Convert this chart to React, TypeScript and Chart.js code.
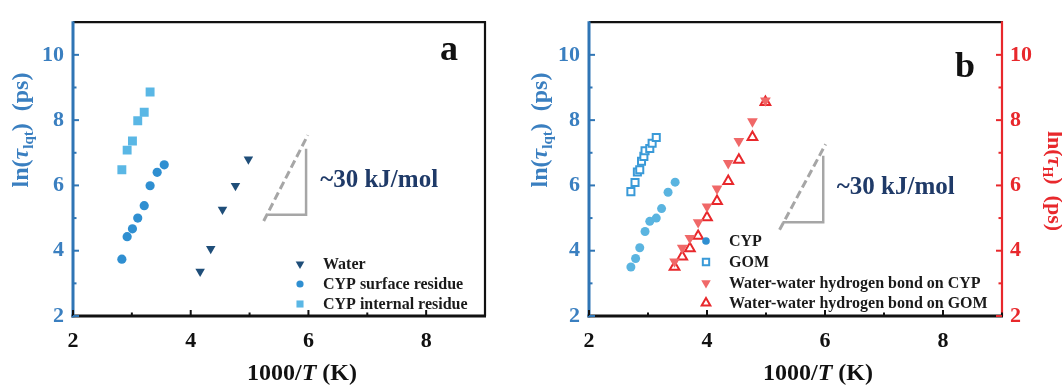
import React, { useEffect, useRef } from 'react';
import { Chart, registerables } from 'chart.js';
import { drawPoint } from 'chart.js/helpers';

Chart.register(...registerables);

const SERIF = '"Liberation Serif", "Times New Roman", serif';
const BLUE_AXIS = '#2f75b5';
const BLUE_TEXT = '#3a7fc0';
const RED = '#e8282c';
const RED_LIGHT = '#f06868';
const NAVY = '#1f3a68';
const GRAY = '#a6a6a6';

// ---------- shared axis values ----------
const xMajorTicks = [2, 4, 6, 8];
const xMinorTicks = [3, 5, 7, 9];
const yMajorTicks = [2, 4, 6, 8, 10];
const yMinorTicks = [3, 5, 7, 9];

// ---------- panel a ----------
const waterX = [4.16, 4.34, 4.54, 4.76, 4.98];
const waterY = [3.36, 4.06, 5.26, 5.99, 6.8];
const surfaceX = [2.83, 2.92, 3.01, 3.1, 3.21, 3.31, 3.43, 3.55];
const surfaceY = [3.74, 4.43, 4.67, 5.0, 5.38, 5.99, 6.4, 6.63];
const internalX = [2.83, 2.92, 3.01, 3.1, 3.21, 3.31];
const internalY = [6.48, 7.08, 7.36, 7.98, 8.24, 8.86];
const slopeDashA_X = [5.24, 5.99];
const slopeDashA_Y = [4.91, 7.54];
const slopeSolidA_X = [5.28, 5.96, 5.96];
const slopeSolidA_Y = [5.1, 5.1, 7.12];
const legendA = ['Water', 'CYP surface residue', 'CYP internal residue'];

// ---------- panel b ----------
const cypX = [2.71, 2.79, 2.86, 2.95, 3.03, 3.14, 3.23, 3.34, 3.46];
const cypY = [3.5, 3.76, 4.09, 4.59, 4.9, 5.0, 5.29, 5.79, 6.1];
const gomX = [2.71, 2.78, 2.82, 2.86, 2.89, 2.93, 2.95, 3.03, 3.07, 3.14];
const gomY = [5.81, 6.09, 6.41, 6.48, 6.74, 6.89, 7.06, 7.13, 7.29, 7.47];
const hbX = [3.45, 3.58, 3.71, 3.85, 4.0, 4.17, 4.36, 4.54, 4.77, 4.99];
const hbCypY = [3.67, 4.09, 4.39, 4.87, 5.35, 5.9, 6.68, 7.36, 7.96, 8.6];
const hbGomY = [3.5, 3.82, 4.07, 4.45, 5.02, 5.52, 6.13, 6.78, 7.48, 8.55];
const slopeDashB_X = [5.23, 6.01];
const slopeDashB_Y = [4.64, 7.26];
const slopeSolidB_X = [5.28, 5.97, 5.97];
const slopeSolidB_Y = [4.87, 4.87, 6.91];
const legendB = ['CYP', 'GOM', 'Water-water hydrogen bond on CYP', 'Water-water hydrogen bond on GOM'];

const pts = (xs: number[], ys: number[]) => xs.map((x, i) => ({ x, y: ys[i] }));

type Part = { t: string; sub?: boolean; italic?: boolean };

function drawParts(ctx: CanvasRenderingContext2D, parts: Part[], size: number, color: string) {
  const subSize = Math.round(size * 0.62);
  const fontOf = (p: Part) => `${p.italic ? 'italic ' : ''}bold ${p.sub ? subSize : size}px ${SERIF}`;
  const widths = parts.map((p) => {
    ctx.font = fontOf(p);
    return ctx.measureText(p.t).width;
  });
  const total = widths.reduce((a, b) => a + b, 0);
  let x = -total / 2;
  const base = size * 0.34;
  ctx.fillStyle = color;
  ctx.textAlign = 'left';
  ctx.textBaseline = 'alphabetic';
  parts.forEach((p, i) => {
    ctx.font = fontOf(p);
    ctx.fillText(p.t, x, p.sub ? base + size * 0.22 : base);
    x += widths[i];
  });
}

function seg(ctx: CanvasRenderingContext2D, x1: number, y1: number, x2: number, y2: number, color: string, w: number) {
  ctx.beginPath();
  ctx.strokeStyle = color;
  ctx.lineWidth = w;
  ctx.moveTo(x1, y1);
  ctx.lineTo(x2, y2);
  ctx.stroke();
}

type LegendItem = { label: string; style: string; rotation: number; radius: number; fill: string; stroke: string; bw: number };

function makeDecor(cfg: {
  rightColor: string;
  rightTicks: boolean;
  legend: LegendItem[];
  legendX: number;
  legendRows: number[];
  letter: string;
  letterX: number;
  letterY: number;
  slopeAt: { x: number; y: number };
  yTitleX: number;
  yTitleY: number;
  xTitleX: number;
  rightTitle?: { x: number; y: number };
}) {
  return {
    id: 'decor',
    afterDraw(chart: any) {
      const { ctx, chartArea: a, scales } = chart;
      const xs = scales.x;
      const ys = scales.y;
      ctx.save();
      // frame
      seg(ctx, a.left, a.top, a.right + 1, a.top, '#111', 2.2);
      seg(ctx, a.right, a.top - 1, a.right, a.bottom, cfg.rightColor, 2.2);
      seg(ctx, a.left - 1.5, a.bottom, a.right + 1, a.bottom, '#111', 3);
      seg(ctx, a.left, a.top - 1, a.left, a.bottom + 1.5, BLUE_AXIS, 3);
      // ticks
      xMajorTicks.forEach((v) => {
        const p = xs.getPixelForValue(v);
        seg(ctx, p, a.bottom, p, a.bottom - 6, '#111', 2);
      });
      xMinorTicks.forEach((v) => {
        const p = xs.getPixelForValue(v);
        seg(ctx, p, a.bottom, p, a.bottom - 3.5, '#111', 2);
      });
      yMajorTicks.forEach((v) => {
        const p = ys.getPixelForValue(v);
        seg(ctx, a.left, p, a.left + 6, p, BLUE_AXIS, 2);
        if (cfg.rightTicks) seg(ctx, a.right, p, a.right - 6, p, cfg.rightColor, 2);
      });
      yMinorTicks.forEach((v) => {
        const p = ys.getPixelForValue(v);
        seg(ctx, a.left, p, a.left + 3.5, p, BLUE_AXIS, 2);
        if (cfg.rightTicks) seg(ctx, a.right, p, a.right - 3.5, p, cfg.rightColor, 2);
      });
      // legend
      cfg.legend.forEach((it, i) => {
        const y = cfg.legendRows[i];
        ctx.fillStyle = it.fill;
        ctx.strokeStyle = it.stroke;
        ctx.lineWidth = it.bw;
        drawPoint(ctx, { pointStyle: it.style, rotation: it.rotation, radius: it.radius, borderWidth: it.bw } as any, cfg.legendX, y);
        ctx.fillStyle = '#1a1a1a';
        ctx.font = `bold 16px ${SERIF}`;
        ctx.textAlign = 'left';
        ctx.textBaseline = 'middle';
        ctx.fillText(it.label, cfg.legendX + 23, y + 1);
      });
      // panel letter
      ctx.fillStyle = '#111';
      ctx.font = `bold 36px ${SERIF}`;
      ctx.textAlign = 'left';
      ctx.textBaseline = 'alphabetic';
      ctx.fillText(cfg.letter, cfg.letterX, cfg.letterY);
      // slope label
      ctx.fillStyle = NAVY;
      ctx.font = `bold 25px ${SERIF}`;
      ctx.textBaseline = 'middle';
      ctx.fillText('~30 kJ/mol', xs.getPixelForValue(cfg.slopeAt.x), ys.getPixelForValue(cfg.slopeAt.y));
      // y title
      ctx.save();
      ctx.translate(cfg.yTitleX, cfg.yTitleY);
      ctx.rotate(-Math.PI / 2);
      drawParts(ctx, [{ t: 'ln(' }, { t: 'τ', italic: true }, { t: 'lqt', sub: true }, { t: ')  (ps)' }], 24, BLUE_TEXT);
      ctx.restore();
      if (cfg.rightTitle) {
        ctx.save();
        ctx.translate(cfg.rightTitle.x, cfg.rightTitle.y);
        ctx.rotate(Math.PI / 2);
        drawParts(ctx, [{ t: 'ln(' }, { t: 'τ', italic: true }, { t: 'H', sub: true }, { t: ')  (ps)' }], 22, RED);
        ctx.restore();
      }
      // x title
      ctx.save();
      ctx.translate(cfg.xTitleX, 372);
      drawParts(ctx, [{ t: '1000/' }, { t: 'T', italic: true }, { t: ' (K)' }], 24, '#111');
      ctx.restore();
      ctx.restore();
    },
  };
}

const tickFont = { family: SERIF, size: 22, weight: 'bold' as const };

function xScale() {
  return {
    type: 'linear' as const,
    min: 2,
    max: 9,
    grid: { display: false, drawTicks: false },
    border: { display: false },
    ticks: { font: tickFont, color: '#111', padding: 12 },
    afterBuildTicks: (s: any) => {
      s.ticks = xMajorTicks.map((v) => ({ value: v }));
    },
    afterFit: (s: any) => {
      s.height = 70;
    },
  };
}

function yScale(position: 'left' | 'right', color: string, width: number, padding: number, display = true) {
  return {
    type: 'linear' as const,
    position,
    min: 2,
    max: 11,
    display,
    grid: { display: false, drawTicks: false },
    border: { display: false },
    ticks: { font: tickFont, color, padding },
    afterBuildTicks: (s: any) => {
      s.ticks = yMajorTicks.map((v) => ({ value: v }));
    },
    afterFit: (s: any) => {
      s.width = width;
    },
  };
}

function lineDs(xs: number[], ys: number[], dashed: boolean, yAxisID = 'y') {
  return {
    data: pts(xs, ys),
    showLine: true,
    borderColor: GRAY,
    borderWidth: dashed ? 3 : 2.5,
    borderDash: dashed ? [8, 4] : [],
    pointRadius: 0,
    fill: false,
    yAxisID,
  };
}

function configA(): any {
  return {
    type: 'scatter',
    data: {
      datasets: [
        { data: pts(waterX, waterY), pointStyle: 'triangle', rotation: 180, pointRadius: 5.5, backgroundColor: '#1f4e79', borderColor: '#1f4e79', borderWidth: 0 },
        { data: pts(surfaceX, surfaceY), pointStyle: 'circle', pointRadius: 4.6, backgroundColor: '#2f8fd1', borderColor: '#2f8fd1', borderWidth: 0 },
        { data: pts(internalX, internalY), pointStyle: 'rect', pointRadius: 6.3, backgroundColor: '#5ab7e5', borderColor: '#5ab7e5', borderWidth: 0 },
        lineDs(slopeDashA_X, slopeDashA_Y, true),
        lineDs(slopeSolidA_X, slopeSolidA_Y, false),
      ],
    },
    options: {
      responsive: false,
      animation: false,
      events: [],
      layout: { padding: { top: 15, right: 35, left: 0, bottom: 0 } },
      plugins: { legend: { display: false }, tooltip: { enabled: false } },
      scales: { x: xScale(), y: yScale('left', BLUE_TEXT, 73, 9) },
    },
    plugins: [
      makeDecor({
        rightColor: '#111',
        rightTicks: false,
        legend: [
          { label: legendA[0], style: 'triangle', rotation: 180, radius: 5, fill: '#1f4e79', stroke: '#1f4e79', bw: 0 },
          { label: legendA[1], style: 'circle', rotation: 0, radius: 3.6, fill: '#2f8fd1', stroke: '#2f8fd1', bw: 0 },
          { label: legendA[2], style: 'rect', rotation: 0, radius: 5, fill: '#5ab7e5', stroke: '#5ab7e5', bw: 0 },
        ],
        legendX: 300,
        legendRows: [264, 284, 304],
        letter: 'a',
        letterX: 440,
        letterY: 60,
        slopeAt: { x: 6.2, y: 6.15 },
        yTitleX: 20,
        yTitleY: 130,
        xTitleX: 302,
      }),
    ],
  };
}

function configB(): any {
  return {
    type: 'scatter',
    data: {
      datasets: [
        { data: pts(cypX, cypY), pointStyle: 'circle', pointRadius: 4.5, backgroundColor: '#5ab4e0', borderColor: '#5ab4e0', borderWidth: 0 },
        { data: pts(gomX, gomY), pointStyle: 'rect', pointRadius: 5, backgroundColor: '#ffffff', borderColor: '#3a9ad8', borderWidth: 2 },
        { data: pts(hbX, hbCypY), yAxisID: 'y2', pointStyle: 'triangle', rotation: 180, pointRadius: 6.2, backgroundColor: RED_LIGHT, borderColor: RED_LIGHT, borderWidth: 0 },
        { data: pts(hbX, hbGomY), yAxisID: 'y2', pointStyle: 'triangle', pointRadius: 5.6, backgroundColor: 'rgba(255,255,255,0)', borderColor: RED, borderWidth: 2 },
        lineDs(slopeDashB_X, slopeDashB_Y, true),
        lineDs(slopeSolidB_X, slopeSolidB_Y, false),
      ],
    },
    options: {
      responsive: false,
      animation: false,
      events: [],
      layout: { padding: { top: 15, right: 0, left: 0, bottom: 0 } },
      plugins: { legend: { display: false }, tooltip: { enabled: false } },
      scales: {
        x: xScale(),
        y: yScale('left', BLUE_TEXT, 69, 9),
        y2: yScale('right', RED, 60, 8),
      },
    },
    plugins: [
      makeDecor({
        rightColor: RED,
        rightTicks: true,
        legend: [
          { label: legendB[0], style: 'circle', rotation: 0, radius: 3.8, fill: '#2f8fd1', stroke: '#2f8fd1', bw: 0 },
          { label: legendB[1], style: 'rect', rotation: 0, radius: 4.5, fill: '#ffffff', stroke: '#3a9ad8', bw: 2 },
          { label: legendB[2], style: 'triangle', rotation: 180, radius: 5.5, fill: RED_LIGHT, stroke: RED_LIGHT, bw: 0 },
          { label: legendB[3], style: 'triangle', rotation: 0, radius: 5, fill: 'rgba(255,255,255,0)', stroke: RED, bw: 2 },
        ],
        legendX: 186,
        legendRows: [241, 262, 283, 303],
        letter: 'b',
        letterX: 435,
        letterY: 77,
        slopeAt: { x: 6.2, y: 5.94 },
        yTitleX: 19,
        yTitleY: 130,
        xTitleX: 298,
        rightTitle: { x: 535, y: 181 },
      }),
    ],
  };
}

function Panel({ left, width, make }: { left: number; width: number; make: () => any }) {
  const ref = useRef<HTMLCanvasElement>(null);
  useEffect(() => {
    const chart = new Chart(ref.current as HTMLCanvasElement, make());
    return () => chart.destroy();
  }, []);
  return (
    <div style={{ position: 'absolute', left, top: 0, width, height: 386 }}>
      <canvas ref={ref} width={width} height={386} style={{ display: 'block', width, height: 386 }} />
    </div>
  );
}

export default function App() {
  return (
    <div style={{ position: 'absolute', left: 0, top: 0, width: 1062, height: 386, background: '#ffffff', overflow: 'hidden' }}>
      <Panel left={0} width={520} make={configA} />
      <Panel left={520} width={542} make={configB} />
    </div>
  );
}
